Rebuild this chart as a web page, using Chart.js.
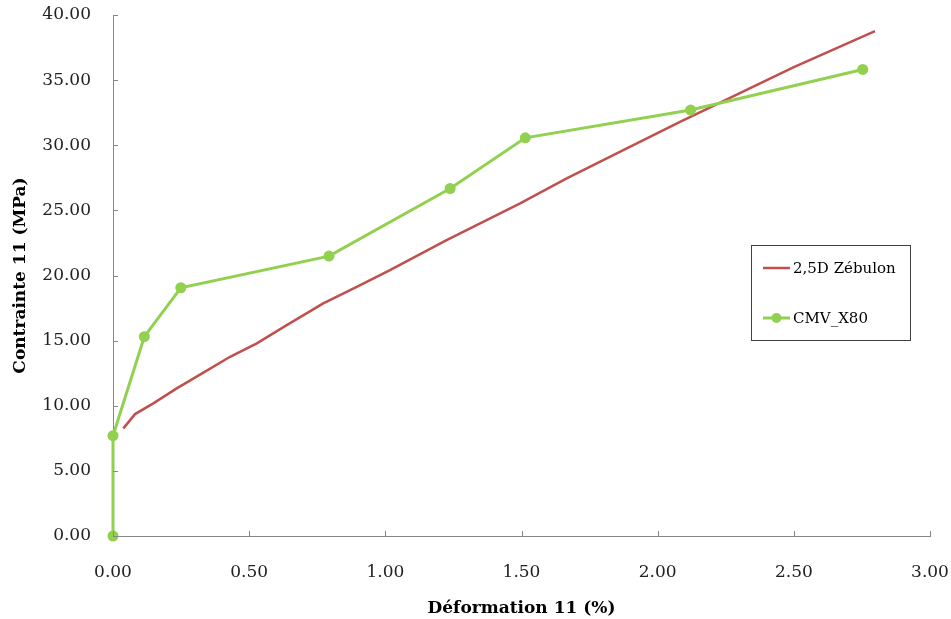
<!DOCTYPE html>
<html>
<head>
<meta charset="utf-8">
<script src="https://cdn.jsdelivr.net/npm/chart.js@4/dist/chart.umd.min.js"></script>
<style>
  html, body { margin: 0; padding: 0; background: #fff; }
  #wrap { width: 951px; height: 619px; }
</style>
</head>
<body>
<div id="wrap"><canvas id="courbe"></canvas></div>
<script>
// Données
var zebulonX = [0.038, 0.081, 0.148, 0.234, 0.332, 0.430, 0.528, 0.638, 0.772, 0.895, 1.017, 1.225, 1.495, 1.666, 1.837, 2.082, 2.235, 2.50, 2.798];
var zebulonY = [8.26, 9.36, 10.18, 11.33, 12.54, 13.76, 14.79, 16.19, 17.86, 19.13, 20.41, 22.72, 25.53, 27.45, 29.24, 31.80, 33.33, 36.0, 38.76];

var cmvX = [0, 0, 0.115, 0.249, 0.793, 1.238, 1.514, 2.121, 2.753];
var cmvY = [0, 7.7, 15.3, 19.06, 21.49, 26.68, 30.57, 32.7, 35.82];

var serieNoms = ['2,5D Zébulon', 'CMV_X80'];

function points(xs, ys) {
  return xs.map(function (x, i) { return { x: x, y: ys[i] }; });
}

var police = '"DejaVu Serif", "Liberation Serif", serif';

// petites graduations vers l'intérieur + légende encadrée
var habillage = {
  id: 'habillage',
  afterDraw: function (chart) {
    var ctx = chart.ctx;
    var xs = chart.scales.x, ys = chart.scales.y;
    var a = chart.chartArea;
    ctx.save();
    ctx.strokeStyle = '#868686';
    ctx.lineWidth = 1;
    ctx.beginPath();
    ys.ticks.forEach(function (t) {
      var py = Math.round(ys.getPixelForValue(t.value)) + 0.5;
      ctx.moveTo(a.left, py); ctx.lineTo(a.left + 5, py);
    });
    xs.ticks.forEach(function (t) {
      var px = Math.round(xs.getPixelForValue(t.value)) + 0.5;
      ctx.moveTo(px, a.bottom); ctx.lineTo(px, a.bottom - 5);
    });
    ctx.stroke();

    // légende
    ctx.strokeStyle = '#404040';
    ctx.strokeRect(751.5, 245.5, 159, 95);
    var lignes = [268, 318];
    chart.data.datasets.forEach(function (ds, i) {
      var y = lignes[i];
      ctx.strokeStyle = ds.borderColor;
      ctx.lineWidth = ds.borderWidth;
      ctx.beginPath();
      ctx.moveTo(763, y); ctx.lineTo(790, y);
      ctx.stroke();
      if (ds.pointRadius > 0) {
        ctx.fillStyle = ds.pointBackgroundColor;
        ctx.beginPath();
        ctx.arc(776.5, y, ds.pointRadius - 0.5, 0, Math.PI * 2);
        ctx.fill();
      }
      ctx.fillStyle = '#000';
      ctx.font = '15px ' + police;
      ctx.textBaseline = 'middle';
      ctx.fillText(ds.label, 793, y + 1);
    });
    ctx.restore();
  }
};

var ctx = document.getElementById('courbe').getContext('2d');
var myChart = new Chart(ctx, {
  type: 'scatter',
  data: {
    datasets: [{
      label: serieNoms[0],
      data: points(zebulonX, zebulonY),
      showLine: true,
      borderColor: '#C0504D',
      backgroundColor: '#C0504D',
      borderWidth: 2.5,
      pointRadius: 0,
      tension: 0,
      order: 1
    },
    {
      label: serieNoms[1],
      data: points(cmvX, cmvY),
      showLine: true,
      clip: false,
      borderColor: '#92D050',
      backgroundColor: '#92D050',
      pointBackgroundColor: '#92D050',
      pointBorderColor: '#92D050',
      pointBorderWidth: 0,
      borderWidth: 3,
      pointRadius: 5.5,
      tension: 0,
      order: 0
    }]
  },
  options: {
    responsive: true,
    maintainAspectRatio: false,
    animation: false,
    layout: { padding: { top: 15, right: 21, left: 0, bottom: 0 } },
    plugins: {
      legend: { display: false },
      tooltip: { enabled: false }
    },
    scales: {
      x: {
        type: 'linear',
        min: 0, max: 3,
        afterFit: function (s) {
          s.height = 83;
          s.paddingLeft = 0; s.paddingRight = 0;
        },
        border: { display: true, color: '#868686', width: 1 },
        grid: { display: false, drawTicks: false },
        ticks: {
          stepSize: 0.5,
          padding: 26,
          color: '#222',
          font: { family: police, size: 17 },
          maxRotation: 0,
          callback: function (v) { return Number(v).toFixed(2); }
        },
        title: {
          display: true,
          text: 'Déformation 11 (%)',
          color: '#000',
          font: { family: police, size: 17, weight: 'bold' },
          padding: { top: 9, bottom: 0 }
        }
      },
      y: {
        type: 'linear',
        min: 0, max: 40,
        afterFit: function (s) {
          s.width = 113;
          s.paddingTop = 0; s.paddingBottom = 0;
        },
        border: { display: true, color: '#868686', width: 1 },
        grid: { display: false, drawTicks: false },
        ticks: {
          stepSize: 5,
          padding: 22,
          color: '#222',
          font: { family: police, size: 17 },
          callback: function (v) { return Number(v).toFixed(2); }
        },
        title: {
          display: true,
          text: 'Contrainte 11 (MPa)',
          color: '#000',
          font: { family: police, size: 17, weight: 'bold' },
          padding: { top: 10, bottom: 0 }
        }
      }
    }
  },
  plugins: [habillage]
});
</script>
</body>
</html>
